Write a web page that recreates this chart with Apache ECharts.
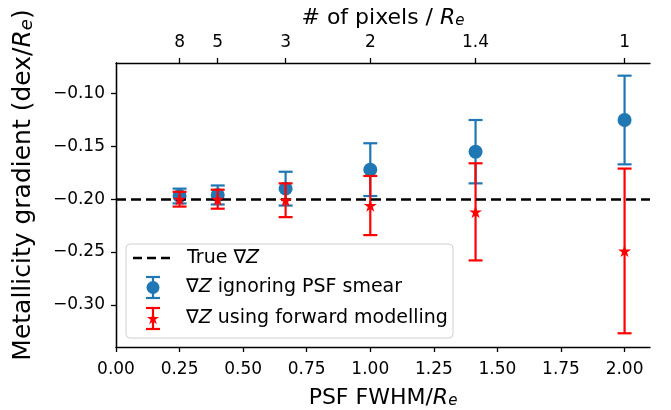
<!DOCTYPE html>
<html>
<head>
<meta charset="utf-8">
<script src="https://cdn.jsdelivr.net/npm/echarts@6/dist/echarts.min.js"></script>
<style>
  html, body { margin: 0; padding: 0; background: #fff; }
  #chart { width: 671px; height: 410px; }
</style>
</head>
<body>
<div id="chart"></div>
<script>
// PSF FWHM / Re for each simulated case
const fwhm = [0.25, 0.4, 0.667, 1.0, 1.414, 2.0];
// gradient ignoring PSF smear (blue)
const ignoreVal = [-0.197, -0.196, -0.190, -0.172, -0.155, -0.125];
const ignoreErr = [0.007, 0.009, 0.016, 0.025, 0.030, 0.042];
// gradient using forward modelling (red)
const fwdVal = [-0.200, -0.200, -0.201, -0.206, -0.212, -0.249];
const fwdErr = [0.007, 0.009, 0.016, 0.028, 0.046, 0.078];
const trueGradient = -0.2;

const xTicks = [0, 0.25, 0.5, 0.75, 1.0, 1.25, 1.5, 1.75, 2.0];
const yTicks = [-0.30, -0.25, -0.20, -0.15, -0.10];
const topTickPos = [0.25, 0.4, 0.667, 1.0, 1.414, 2.0];
const topTickLabels = ['8', '5', '3', '2', '1.4', '1'];

const FONT = 'DejaVu Sans';
const BLUE = '#1f77b4';
const RED = '#ff0000';
const STAR = 'path://M0,-1000L-224,-309L-951,-309L-363,118L-588,809L0,382L588,809L363,118L951,-309L224,-309Z';

function nameRich(size) {
  return {
    n: { fontFamily: FONT, fontSize: size, lineHeight: size, color: '#000' },
    i: { fontFamily: FONT, fontSize: size, lineHeight: size, fontStyle: 'italic', color: '#000' },
    s: { fontFamily: FONT, fontSize: Math.round(size * 0.7), lineHeight: 10, fontStyle: 'italic', verticalAlign: 'bottom', color: '#000' }
  };
}

function errorBars(vals, errs, color) {
  return {
    type: 'custom',
    data: fwhm.map((x, i) => [x, vals[i] - errs[i], vals[i] + errs[i]]),
    renderItem(params, api) {
      const lo = api.coord([api.value(0), api.value(1)]);
      const hi = api.coord([api.value(0), api.value(2)]);
      const cap = 7;
      const st = { stroke: color, lineWidth: 2.2 };
      return {
        type: 'group',
        children: [
          { type: 'line', shape: { x1: lo[0], y1: lo[1], x2: hi[0], y2: hi[1] }, style: st },
          { type: 'line', shape: { x1: lo[0] - cap, y1: lo[1], x2: lo[0] + cap, y2: lo[1] }, style: st },
          { type: 'line', shape: { x1: hi[0] - cap, y1: hi[1], x2: hi[0] + cap, y2: hi[1] }, style: st }
        ]
      };
    },
    silent: true
  };
}

const axisLine = { show: true, lineStyle: { color: '#000', width: 1.3 } };
const axisTick = { show: true, length: 5, lineStyle: { color: '#000', width: 1.3 } };

// legend drawn by hand so the handles look like error bars
const lx = 153;
function legendBar(cy, color) {
  const st = { stroke: color, lineWidth: 2.2 };
  return [
    { type: 'line', z: 11, shape: { x1: lx, y1: cy - 10.5, x2: lx, y2: cy + 10.5 }, style: st },
    { type: 'line', z: 11, shape: { x1: lx - 7, y1: cy - 10.5, x2: lx + 7, y2: cy - 10.5 }, style: st },
    { type: 'line', z: 11, shape: { x1: lx - 7, y1: cy + 10.5, x2: lx + 7, y2: cy + 10.5 }, style: st }
  ];
}
const starPts = [[0,-1],[-0.224,-0.309],[-0.951,-0.309],[-0.363,0.118],[-0.588,0.809],[0,0.382],[0.588,0.809],[0.363,0.118],[0.951,-0.309],[0.224,-0.309]];
const legendText = {
  n: { fontFamily: FONT, fontSize: 19, color: '#000' },
  i: { fontFamily: FONT, fontSize: 19, fontStyle: 'italic', color: '#000' }
};

const chart = echarts.init(document.getElementById('chart'), null, { renderer: 'canvas' });
chart.setOption({
  animation: false,
  backgroundColor: '#fff',
  grid: { left: 116, right: 21, top: 63, bottom: 63, containLabel: false, outerBoundsMode: 'none' },
  xAxis: [
    {
      type: 'value', position: 'bottom', min: 0, max: 2.1,
      name: '{n|PSF FWHM/}{i|R}{s|e}', nameLocation: 'middle', nameGap: 40,
      nameTextStyle: { rich: nameRich(22) },
      axisLine, axisTick: Object.assign({ customValues: xTicks }, axisTick),
      axisLabel: {
        customValues: xTicks, margin: 14, fontFamily: FONT, fontSize: 17, color: '#000',
        formatter: v => v.toFixed(2)
      },
      splitLine: { show: false }
    },
    {
      type: 'value', position: 'top', min: 0, max: 2.1,
      name: '{n|# of pixels / }{i|R}{s|e}', nameLocation: 'middle', nameGap: 33,
      nameTextStyle: { rich: nameRich(22) },
      axisLine, axisTick: Object.assign({ customValues: topTickPos }, axisTick),
      axisLabel: {
        customValues: topTickPos, margin: 12, fontFamily: FONT, fontSize: 17, color: '#000',
        formatter: v => {
          const i = topTickPos.findIndex(p => Math.abs(p - v) < 1e-6);
          return i >= 0 ? topTickLabels[i] : '';
        }
      },
      splitLine: { show: false }
    }
  ],
  yAxis: [
    {
      type: 'value', position: 'left', min: -0.34, max: -0.071,
      name: '{n|Metallicity gradient (dex/}{i|R}{s|e}{n|)}', nameLocation: 'middle', nameGap: 80,
      nameTextStyle: { rich: nameRich(25), padding: [0, 0, 0, 40] },
      axisLine, axisTick: Object.assign({ customValues: yTicks }, axisTick),
      axisLabel: {
        customValues: yTicks, margin: 11, fontFamily: FONT, fontSize: 17, color: '#000',
        formatter: v => (v < 0 ? '\u2212' : '') + Math.abs(v).toFixed(2)
      },
      splitLine: { show: false }
    },
    {
      type: 'value', position: 'right', min: -0.34, max: -0.071,
      axisLine, axisTick: { show: false }, axisLabel: { show: false }, splitLine: { show: false }
    }
  ],
  series: [
    {
      type: 'line', data: [], z: 1,
      markLine: {
        silent: true, symbol: 'none', animation: false,
        label: { show: false },
        lineStyle: { color: '#000', width: 2.5, type: [10, 5] },
        data: [{ yAxis: trueGradient }]
      }
    },
    Object.assign(errorBars(ignoreVal, ignoreErr, BLUE), { z: 2 }),
    {
      type: 'scatter', z: 3, symbol: 'circle', symbolSize: 14,
      itemStyle: { color: BLUE, opacity: 1 },
      data: fwhm.map((x, i) => [x, ignoreVal[i]])
    },
    Object.assign(errorBars(fwdVal, fwdErr, RED), { z: 4 }),
    {
      type: 'scatter', z: 5, symbol: STAR, symbolSize: 13, symbolKeepAspect: true,
      itemStyle: { color: RED, opacity: 1 },
      data: fwhm.map((x, i) => [x, fwdVal[i]])
    }
  ],
  graphic: [
    {
      type: 'rect', z: 10,
      shape: { x: 126, y: 244, width: 327, height: 94, r: 4 },
      style: { fill: 'rgba(255,255,255,0.8)', stroke: '#d0d0d0', lineWidth: 1 }
    },
    {
      type: 'line', z: 11,
      shape: { x1: 133, y1: 258, x2: 172, y2: 258 },
      style: { stroke: '#000', lineWidth: 2.5, lineDash: [9, 5] }
    },
    { type: 'text', z: 11, x: 187, y: 258, style: { text: '{n|True \u2207}{i|Z}', rich: legendText, verticalAlign: 'middle' } },
    { type: 'group', children: legendBar(287.5, BLUE).concat([
      { type: 'circle', z: 12, shape: { cx: lx, cy: 287.5, r: 6.5 }, style: { fill: BLUE } }
    ]) },
    { type: 'text', z: 11, x: 186, y: 287, style: { text: '{n|\u2207}{i|Z}{n| ignoring PSF smear}', rich: legendText, verticalAlign: 'middle' } },
    { type: 'group', children: legendBar(318.5, RED).concat([
      { type: 'polygon', z: 12, shape: { points: starPts.map(p => [lx + p[0] * 6.5, 319 + p[1] * 6.5]) }, style: { fill: RED } }
    ]) },
    { type: 'text', z: 11, x: 186, y: 318, style: { text: '{n|\u2207}{i|Z}{n| using forward modelling}', rich: legendText, verticalAlign: 'middle' } }
  ]
});
</script>
</body>
</html>
